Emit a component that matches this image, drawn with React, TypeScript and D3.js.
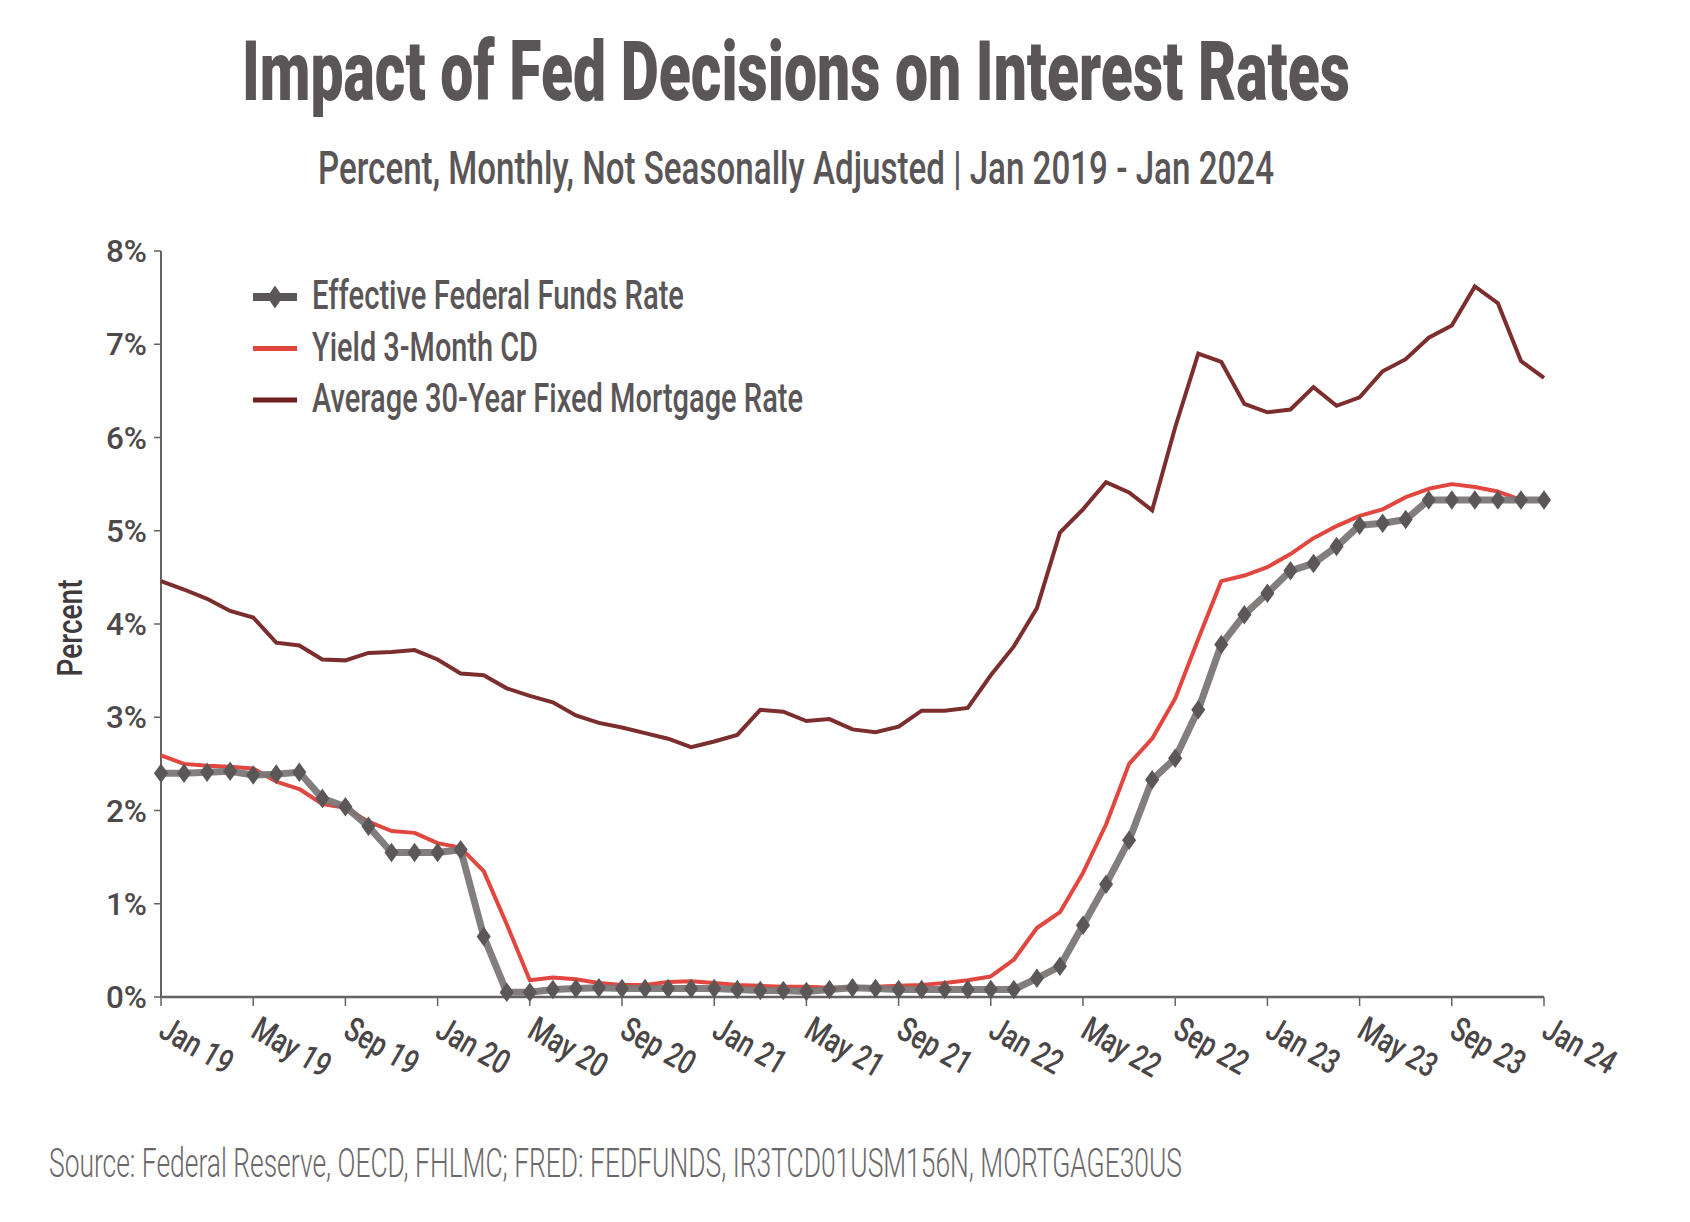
import React from "react";
import * as d3 from "d3";

const monthNames = ["Jan", "Feb", "Mar", "Apr", "May", "Jun", "Jul", "Aug", "Sep", "Oct", "Nov", "Dec"];

const fedFunds = [
  2.40, 2.40, 2.41, 2.42, 2.38, 2.39, 2.41, 2.13, 2.04, 1.83, 1.55, 1.55,
  1.55, 1.58, 0.65, 0.05, 0.05, 0.08, 0.09, 0.10, 0.09, 0.09, 0.09, 0.09,
  0.09, 0.08, 0.07, 0.07, 0.06, 0.08, 0.10, 0.09, 0.08, 0.08, 0.08, 0.08,
  0.08, 0.08, 0.20, 0.33, 0.77, 1.21, 1.68, 2.33, 2.56, 3.08, 3.78, 4.10,
  4.33, 4.57, 4.65, 4.83, 5.06, 5.08, 5.12, 5.33, 5.33, 5.33, 5.33, 5.33,
  5.33,
];

const cd3Month = [
  2.59, 2.50, 2.48, 2.47, 2.45, 2.31, 2.23, 2.07, 2.03, 1.88, 1.78, 1.76,
  1.65, 1.60, 1.35, 0.78, 0.18, 0.21, 0.19, 0.15, 0.13, 0.13, 0.16, 0.17,
  0.15, 0.13, 0.12, 0.11, 0.11, 0.10, 0.10, 0.11, 0.12, 0.13, 0.15, 0.18,
  0.22, 0.40, 0.74, 0.91, 1.33, 1.85, 2.50, 2.77, 3.20, 3.84, 4.46, 4.52,
  4.61, 4.75, 4.92, 5.05, 5.16, 5.23, 5.36, 5.45, 5.50, 5.47, 5.42, 5.33,
];

const mortgage30 = [
  4.46, 4.37, 4.27, 4.14, 4.07, 3.80, 3.77, 3.62, 3.61, 3.69, 3.70, 3.72,
  3.62, 3.47, 3.45, 3.31, 3.23, 3.16, 3.02, 2.94, 2.89, 2.83, 2.77, 2.68,
  2.74, 2.81, 3.08, 3.06, 2.96, 2.98, 2.87, 2.84, 2.90, 3.07, 3.07, 3.10,
  3.45, 3.76, 4.17, 4.98, 5.23, 5.52, 5.41, 5.22, 6.11, 6.90, 6.81, 6.36,
  6.27, 6.30, 6.54, 6.34, 6.43, 6.71, 6.84, 7.07, 7.20, 7.62, 7.44, 6.82,
  6.64,
];

const yTicks = [0, 1, 2, 3, 4, 5, 6, 7, 8];
const xTickIndices = d3.range(0, 61, 4);

const legendItems = [
  { label: "Effective Federal Funds Rate", kind: "fed" },
  { label: "Yield 3-Month CD", kind: "cd" },
  { label: "Average 30-Year Fixed Mortgage Rate", kind: "mort" },
];

const W = 1690;
const H = 1222;
const FONT = "Roboto, 'Open Sans', sans-serif";
const TITLE_C = "#5a5657";
const AXIS_C = "#666264";
const FED_LINE = "#7a7776";
const FED_MARK = "#5b5758";
const CD_C = "#e2473f";
const MORT_C = "#7c2e2e";

function labelFor(i: number) {
  const m = i % 12;
  const y = 19 + Math.floor(i / 12);
  return `${monthNames[m]} ${y}`;
}

export default function App() {
  const x = d3.scaleLinear().domain([0, 60]).range([161, 1544]);
  const y = d3.scaleLinear().domain([0, 8]).range([997, 251]);

  const line = d3
    .line<number>()
    .x((_, i) => x(i))
    .y((d) => y(d));

  const legendX0 = 253;
  const legendX1 = 297;
  const legendTextX = 312;
  const legendRowY = [297, 348.5, 400];
  const legendWidths = [372, 226, 491];

  const titleSx = 0.58;
  const sourceSx = 0.68;

  return (
    <svg
      width={W}
      height={H}
      viewBox={`0 0 ${W} ${H}`}
      style={{ position: "absolute", left: 0, top: 0, background: "#fff" }}
    >
      <rect x={0} y={0} width={W} height={H} fill="#fff" />
      {/* Title */}
      <g transform={`translate(242, 100) scale(${titleSx}, 1)`}>
        <text
          x={0}
          y={0}
          fontFamily={FONT}
          fontWeight={900}
          fontSize={83}
          fill={TITLE_C}
          textLength={1108 / titleSx}
          lengthAdjust="spacingAndGlyphs"
        >
          Impact of Fed Decisions on Interest Rates
        </text>
      </g>
      <text
        x={318}
        y={184}
        fontFamily={FONT}
        fontWeight={500}
        fontSize={47}
        fill={TITLE_C}
        textLength={956}
        lengthAdjust="spacingAndGlyphs"
      >
        Percent, Monthly, Not Seasonally Adjusted | Jan 2019 - Jan 2024
      </text>

      {/* Y axis */}
      <line x1={161} x2={161} y1={y(8)} y2={y(0)} stroke={AXIS_C} strokeWidth={2} />
      {yTicks.map((t) => (
        <g key={t}>
          <line x1={154} x2={161} y1={y(t)} y2={y(t)} stroke={AXIS_C} strokeWidth={1.5} />
          <text
            x={147}
            y={y(t) + 11}
            textAnchor="end"
            fontFamily={FONT}
            fontWeight={500}
            fontSize={32}
            fill="#4d494a"
            textLength={41}
            lengthAdjust="spacingAndGlyphs"
          >
            {`${t}%`}
          </text>
        </g>
      ))}
      <text
        transform={`translate(82, 628) rotate(-90)`}
        textAnchor="middle"
        fontFamily={FONT}
        fontWeight={500}
        fontSize={35}
        fill="#3f3b3c"
        textLength={97}
        lengthAdjust="spacingAndGlyphs"
      >
        Percent
      </text>

      {/* X axis */}
      <line x1={x(0)} x2={x(60)} y1={y(0)} y2={y(0)} stroke={AXIS_C} strokeWidth={2.5} />
      {xTickIndices.map((i) => (
        <g key={i}>
          <line x1={x(i)} x2={x(i)} y1={y(0)} y2={y(0) + 9} stroke={AXIS_C} strokeWidth={1.5} />
          <g transform={`translate(${x(i) - 4}, 1036) rotate(30)`}>
            <text
              transform="scale(0.76,1)"
              fontFamily={FONT}
              fontWeight={500}
              fontSize={34}
              fill="#4a4647"
            >
              {labelFor(i)}
            </text>
          </g>
        </g>
      ))}

      {/* Series */}
      <path d={line(mortgage30) || ""} fill="none" stroke={MORT_C} strokeWidth={4} strokeLinejoin="miter" />
      <path d={line(cd3Month) || ""} fill="none" stroke={CD_C} strokeWidth={4} strokeLinejoin="round" />
      <path
        d={line(fedFunds) || ""}
        fill="none"
        stroke={FED_LINE}
        strokeWidth={7}
        strokeLinejoin="round"
        opacity={0.95}
      />
      {fedFunds.map((v, i) => (
        <path
          key={i}
          d={d3.symbol(d3.symbolDiamond, 110)() || ""}
          transform={`translate(${x(i)}, ${y(v)}) scale(1.25,1)`}
          fill={FED_MARK}
        />
      ))}

      {/* Legend */}
      {legendItems.map((it, k) => {
        const ly = legendRowY[k];
        return (
          <g key={it.label}>
            {it.kind === "fed" && (
              <>
                <line x1={legendX0} x2={legendX1} y1={ly} y2={ly} stroke={FED_MARK} strokeWidth={8} />
                <path
                  d={d3.symbol(d3.symbolDiamond, 150)() || ""}
                  transform={`translate(${(legendX0 + legendX1) / 2}, ${ly}) scale(1.2,1)`}
                  fill={FED_MARK}
                />
              </>
            )}
            {it.kind === "cd" && (
              <line x1={legendX0} x2={legendX1} y1={ly} y2={ly} stroke={CD_C} strokeWidth={5} />
            )}
            {it.kind === "mort" && (
              <line x1={legendX0} x2={legendX1} y1={ly} y2={ly} stroke="#6e2020" strokeWidth={5} />
            )}
            <text
              x={legendTextX}
              y={ly + 12}
              fontFamily={FONT}
              fontWeight={500}
              fontSize={41}
              fill={TITLE_C}
              textLength={legendWidths[k]}
              lengthAdjust="spacingAndGlyphs"
            >
              {it.label}
            </text>
          </g>
        );
      })}

      {/* Source */}
      <g transform={`translate(49, 1177) scale(${sourceSx}, 1)`}>
        <text
          x={0}
          y={0}
          fontFamily={FONT}
          fontWeight={300}
          fontSize={40}
          fill="#6b6869"
          textLength={1133 / sourceSx}
          lengthAdjust="spacingAndGlyphs"
        >
          Source: Federal Reserve, OECD, FHLMC; FRED: FEDFUNDS, IR3TCD01USM156N, MORTGAGE30US
        </text>
      </g>
    </svg>
  );
}
